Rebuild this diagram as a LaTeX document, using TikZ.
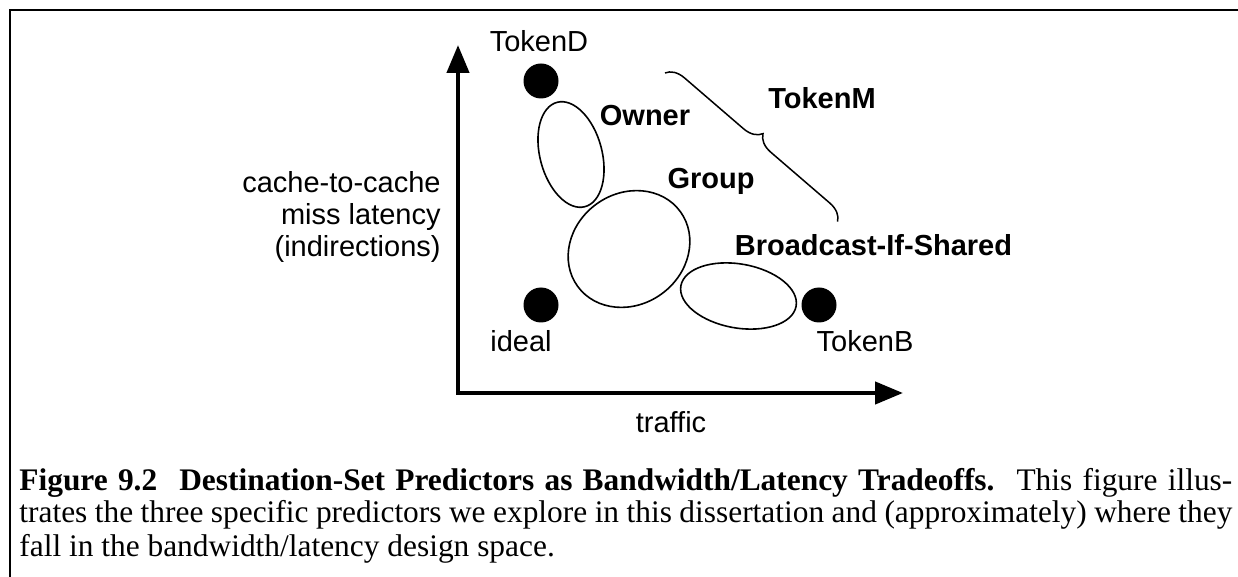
\documentclass[tikz,border=0pt]{standalone}
\usepackage{fontspec}
\setmainfont{Liberation Serif}
\setsansfont{Liberation Sans}
\usetikzlibrary{arrows.meta,shapes.geometric,decorations.pathreplacing}
\begin{document}
\begin{tikzpicture}[x=0.5pt,y=-0.5pt,
  lbl/.style={font=\sffamily\fontsize{14.5}{16}\selectfont, inner sep=0pt, anchor=base},
  blbl/.style={lbl, font=\sffamily\bfseries\fontsize{14.5}{16}\selectfont},
  captext/.style={font=\rmfamily\fontsize{15.7}{16.5}\selectfont, inner sep=0pt, anchor=base west},
  dot/.style={circle, fill=black, inner sep=0pt, minimum size=17.5pt},
  region/.style={ellipse, draw=black, line width=0.8pt, inner sep=0pt},
  axis/.style={line width=2.2pt, line join=miter, {Triangle[length=14pt,width=11pt]}-{Triangle[length=14pt,width=11pt]}},
  framestyle/.style={line width=1pt},
  bracestyle/.style={line width=0.75pt, decorate, decoration={brace, amplitude=9pt}}
]
\useasboundingbox (0,0) rectangle (1238,577);
% frame
\draw[framestyle] (9.5,577) -- (9.5,10.5) -- (1238,10.5);
% axes
\coordinate (O) at (458,393);
\coordinate (ytip) at (458,45);
\coordinate (xtip) at (903,393);
\draw[axis] (ytip) -- (O) -- (xtip);
% points
\node[dot] (tokenD) at (541,81) {};
\node[dot] (ideal) at (541,305) {};
\node[dot] (tokenB) at (819,305) {};
% regions
\node[region, minimum width=31pt, minimum height=54pt, rotate=15] (ownerR) at (571,154.5) {};
\node[region, minimum width=63.5pt, minimum height=55.5pt, rotate=36] (groupR) at (629,249) {};
\node[region, minimum width=58.5pt, minimum height=32pt, rotate=-10] (bisR) at (738.5,296) {};
% brace
\coordinate (bA) at (665,73);
\coordinate (bB) at (838,222);
\draw[bracestyle] (bA) -- (bB);
% labels
\node[lbl] (tokenDlbl) at (539,51.5) {TokenD};
\node[lbl] (ideallbl) at (521,352) {ideal};
\node[lbl] (tokenBlbl) at (865,352) {TokenB};
\node[lbl] (trafficlbl) at (671,432) {traffic};
\node[lbl, anchor=base east] (ylbl1) at (441,193) {cache-to-cache};
\node[lbl, anchor=base east] (ylbl2) at (441,225) {miss latency};
\node[lbl, anchor=base east] (ylbl3) at (441,257) {(indirections)};
\node[blbl] (ownerlbl) at (645,126) {Owner};
\node[blbl] (grouplbl) at (711,189) {Group};
\node[blbl] (tokenMlbl) at (822,109) {TokenM};
\node[blbl] (bislbl) at (873.5,256) {Broadcast-If-Shared};
% caption
\node[captext] (cap1) at (19,490) {\makebox[606.5pt][s]{\textbf{Figure 9.2}\hspace{11pt}\textbf{Destination-Set Predictors as Bandwidth/Latency Tradeoffs.}\hspace{11pt}This figure illus-}};
\node[captext] (cap2) at (19,523) {\makebox[606.5pt][s]{trates the three specific predictors we explore in this dissertation and (approximately) where they}};
\node[captext] (cap3) at (19,556) {fall in the bandwidth/latency design space.};
\end{tikzpicture}
\end{document}
